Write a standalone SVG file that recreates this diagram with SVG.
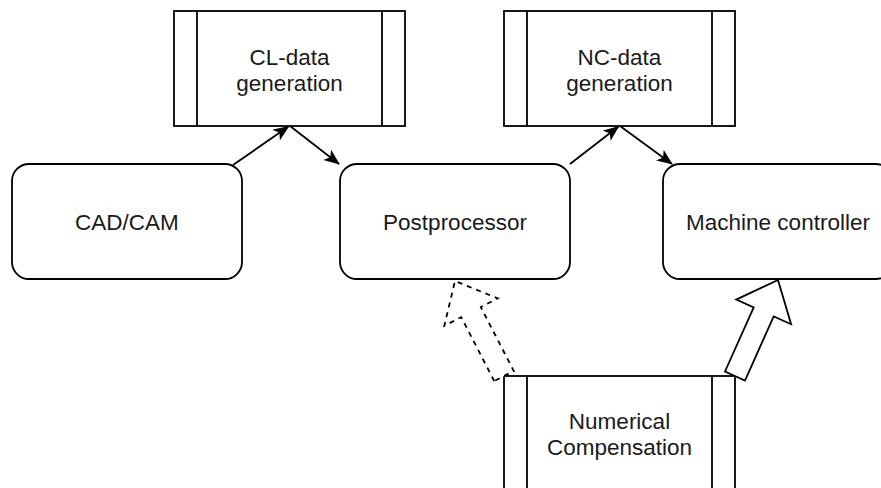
<svg xmlns="http://www.w3.org/2000/svg" width="881" height="488" viewBox="0 0 881 488">
<defs>
<style>
.box{fill:#fff;stroke:#000;stroke-width:1.8}
.bar{fill:none;stroke:#000;stroke-width:1.8}
.lbl{font-family:"Liberation Sans",Arial,sans-serif;font-size:22.5px;fill:#1a1a1a;text-anchor:middle}
.edge{fill:none;stroke:#000;stroke-width:1.8}
.block{fill:#fff;stroke:#000;stroke-width:1.8;stroke-linejoin:miter}
.dashed{stroke-dasharray:5 5}
</style>
<marker id="arr" markerUnits="userSpaceOnUse" markerWidth="16" markerHeight="13" refX="15" refY="6.5" orient="auto">
<path d="M0,0 L16,6.5 L0,13 L4,6.5 z" fill="#000"/>
</marker>
</defs>
<rect width="881" height="488" fill="#fff"/>
<g id="cl-data">
<rect class="box" x="174" y="11" width="231" height="115"/>
<line class="bar" x1="197" y1="11" x2="197" y2="126"/>
<line class="bar" x1="382" y1="11" x2="382" y2="126"/>
<text class="lbl" x="289.5" y="64.5">CL-data</text>
<text class="lbl" x="289.5" y="90.5">generation</text>
</g>
<g id="nc-data">
<rect class="box" x="504" y="11" width="231" height="115"/>
<line class="bar" x1="527" y1="11" x2="527" y2="126"/>
<line class="bar" x1="712" y1="11" x2="712" y2="126"/>
<text class="lbl" x="619.5" y="64.5">NC-data</text>
<text class="lbl" x="619.5" y="90.5">generation</text>
</g>
<g id="cadcam">
<rect class="box" x="12" y="164" width="230" height="115" rx="17"/>
<text class="lbl" x="127" y="230">CAD/CAM</text>
</g>
<g id="postprocessor">
<rect class="box" x="340" y="164" width="230" height="115" rx="17"/>
<text class="lbl" x="455" y="230">Postprocessor</text>
</g>
<g id="machine-controller">
<rect class="box" x="663" y="164" width="230" height="115" rx="17"/>
<text class="lbl" x="778" y="230">Machine controller</text>
</g>
<g id="numerical-compensation">
<rect class="box" x="504" y="376" width="231" height="115"/>
<line class="bar" x1="527" y1="376" x2="527" y2="491"/>
<line class="bar" x1="712" y1="376" x2="712" y2="491"/>
<text class="lbl" x="619.5" y="428.5">Numerical</text>
<text class="lbl" x="619.5" y="455">Compensation</text>
</g>
<g id="connectors">
<line class="edge" x1="233" y1="165" x2="288.5" y2="126.5" marker-end="url(#arr)"/>
<line class="edge" x1="290" y1="126" x2="339" y2="164" marker-end="url(#arr)"/>
<line class="edge" x1="570" y1="164" x2="618.5" y2="126.5" marker-end="url(#arr)"/>
<line class="edge" x1="620" y1="126" x2="672" y2="164" marker-end="url(#arr)"/>
<polygon class="block dashed" points="494.2,381 461.2,317.1 444.3,325.9 455,281 497.7,298.3 480.8,307.1 513.8,371"/>
<polygon class="block" points="725,371.5 753.7,307.4 736.3,299.6 778,280 791.1,324.2 773.7,316.4 745,380.5"/>
</g>
</svg>
